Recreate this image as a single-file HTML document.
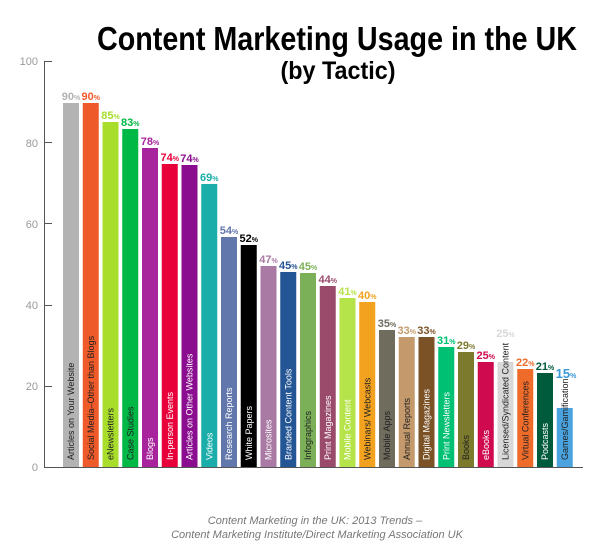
<!DOCTYPE html>
<html><head><meta charset="utf-8"><style>
body{margin:0;background:#fff;}
svg{display:block;font-family:"Liberation Sans",sans-serif;}
.p{font-weight:bold;font-size:11px;text-anchor:middle;}
.p tspan{font-size:7px;}
.l{font-size:9px;}
</style></head><body>
<svg width="600" height="549" viewBox="0 0 600 549">
<text x="337" y="50" font-size="33" font-weight="bold" text-anchor="middle" textLength="480" lengthAdjust="spacingAndGlyphs">Content Marketing Usage in the UK</text>
<text x="338" y="79" font-size="25" font-weight="bold" text-anchor="middle" textLength="115" lengthAdjust="spacingAndGlyphs">(by Tactic)</text>
<g fill="#999" font-size="11" text-anchor="end">
<text x="38" y="65">100</text><text x="38" y="147">80</text><text x="38" y="228">60</text><text x="38" y="309">40</text><text x="38" y="390">20</text><text x="38" y="471">0</text>
</g>
<g stroke="#555" stroke-width="1">
<line x1="44.5" y1="61" x2="44.5" y2="467"/>
<line x1="44" y1="467.5" x2="583" y2="467.5"/>
<line x1="44" y1="61.5" x2="52" y2="61.5"/><line x1="44" y1="142.5" x2="52" y2="142.5"/><line x1="44" y1="223.5" x2="52" y2="223.5"/><line x1="44" y1="305.5" x2="52" y2="305.5"/><line x1="44" y1="386.5" x2="52" y2="386.5"/>
</g>
<g>
<rect x="63" y="103" width="16" height="364" fill="#b3b3b3"/>
<rect x="82.75" y="103" width="16" height="364" fill="#ee5a2a"/>
<rect x="102.5" y="122" width="16" height="345" fill="#a8dd2c"/>
<rect x="122.25" y="129" width="16" height="338" fill="#00b845"/>
<rect x="142" y="148" width="16" height="319" fill="#a8249c"/>
<rect x="161.75" y="164" width="16" height="303" fill="#e8003a"/>
<rect x="181.5" y="165" width="16" height="302" fill="#8a0d8f"/>
<rect x="201.25" y="184" width="16" height="283" fill="#1aada9"/>
<rect x="221" y="237" width="16" height="230" fill="#6277ab"/>
<rect x="240.75" y="245" width="16" height="222" fill="#000"/>
<rect x="260.5" y="266" width="16" height="201" fill="#a97ba4"/>
<rect x="280.25" y="272" width="16" height="195" fill="#245594"/>
<rect x="300" y="273" width="16" height="194" fill="#7bb058"/>
<rect x="319.75" y="286" width="16" height="181" fill="#9a4b6c"/>
<rect x="339.5" y="298" width="16" height="169" fill="#b5e34a"/>
<rect x="359.25" y="302" width="16" height="165" fill="#f3a21f"/>
<rect x="379" y="330" width="16" height="137" fill="#6f6c5e"/>
<rect x="398.75" y="337" width="16" height="130" fill="#c49a6c"/>
<rect x="418.5" y="337" width="16" height="130" fill="#7a5226"/>
<rect x="438.25" y="347" width="16" height="120" fill="#00c074"/>
<rect x="458" y="352" width="16" height="115" fill="#7c7a2c"/>
<rect x="477.75" y="362" width="16" height="105" fill="#cf0a4e"/>
<rect x="497.5" y="362" width="16" height="105" fill="#d8d8d8"/>
<rect x="517.25" y="369" width="16" height="98" fill="#ee6b2a"/>
<rect x="537" y="373" width="16" height="94" fill="#005a3c"/>
<rect x="556.75" y="408" width="16" height="59" fill="#4aa3df"/>
</g>
<g class="p">
<text x="71" y="100" fill="#b3b3b3">90<tspan>%</tspan></text>
<text x="90.75" y="100" fill="#ee5a2a">90<tspan>%</tspan></text>
<text x="110.5" y="119" fill="#a8dd2c">85<tspan>%</tspan></text>
<text x="130.25" y="126" fill="#00b845">83<tspan>%</tspan></text>
<text x="150" y="145" fill="#a8249c">78<tspan>%</tspan></text>
<text x="169.75" y="161" fill="#e8003a">74<tspan>%</tspan></text>
<text x="189.5" y="162" fill="#8a0d8f">74<tspan>%</tspan></text>
<text x="209.25" y="181" fill="#1aada9">69<tspan>%</tspan></text>
<text x="229" y="234" fill="#6277ab">54<tspan>%</tspan></text>
<text x="248.75" y="242" fill="#000">52<tspan>%</tspan></text>
<text x="268.5" y="263" fill="#a97ba4">47<tspan>%</tspan></text>
<text x="288.25" y="269" fill="#245594">45<tspan>%</tspan></text>
<text x="308" y="270" fill="#7bb058">45<tspan>%</tspan></text>
<text x="327.75" y="283" fill="#9a4b6c">44<tspan>%</tspan></text>
<text x="347.5" y="295" fill="#b5e34a">41<tspan>%</tspan></text>
<text x="367.25" y="299" fill="#f3a21f">40<tspan>%</tspan></text>
<text x="387" y="327" fill="#6f6c5e">35<tspan>%</tspan></text>
<text x="406.75" y="334" fill="#c49a6c">33<tspan>%</tspan></text>
<text x="426.5" y="334" fill="#7a5226">33<tspan>%</tspan></text>
<text x="446.25" y="344" fill="#00c074">31<tspan>%</tspan></text>
<text x="466" y="349" fill="#7c7a2c">29<tspan>%</tspan></text>
<text x="485.75" y="359" fill="#cf0a4e">25<tspan>%</tspan></text>
<text x="505.5" y="337" fill="#d8d8d8">25<tspan>%</tspan></text>
<text x="525.25" y="366" fill="#ee6b2a">22<tspan>%</tspan></text>
<text x="545" y="370" fill="#005a3c">21<tspan>%</tspan></text>
<text x="566" y="378" fill="#3a9ad9" font-size="13">15<tspan>%</tspan></text>
</g>
<g class="l">
<text transform="translate(74,460) rotate(-90)" fill="#222">Articles on Your Website</text>
<text transform="translate(93.75,460) rotate(-90)" fill="#222">Social Media–Other than Blogs</text>
<text transform="translate(113.5,460) rotate(-90)" fill="#222">eNewsletters</text>
<text transform="translate(133.25,460) rotate(-90)" fill="#222">Case Studies</text>
<text transform="translate(153,460) rotate(-90)" fill="#fff">Blogs</text>
<text transform="translate(172.75,460) rotate(-90)" fill="#fff">In-person Events</text>
<text transform="translate(192.5,460) rotate(-90)" fill="#fff">Articles on Other Websites</text>
<text transform="translate(212.25,460) rotate(-90)" fill="#fff">Videos</text>
<text transform="translate(232,460) rotate(-90)" fill="#fff">Research Reports</text>
<text transform="translate(251.75,460) rotate(-90)" fill="#fff">White Papers</text>
<text transform="translate(271.5,460) rotate(-90)" fill="#fff">Microsites</text>
<text transform="translate(291.25,460) rotate(-90)" fill="#fff">Branded Content Tools</text>
<text transform="translate(311,460) rotate(-90)" fill="#222">Infographics</text>
<text transform="translate(330.75,460) rotate(-90)" fill="#fff">Print Magazines</text>
<text transform="translate(350.5,460) rotate(-90)" fill="#fff">Mobile Content</text>
<text transform="translate(370.25,460) rotate(-90)" fill="#222">Webinars/ Webcasts</text>
<text transform="translate(390,460) rotate(-90)" fill="#222">Mobile Apps</text>
<text transform="translate(409.75,460) rotate(-90)" fill="#222">Annual Reports</text>
<text transform="translate(429.5,460) rotate(-90)" fill="#fff">Digital Magazines</text>
<text transform="translate(449.25,460) rotate(-90)" fill="#fff">Print Newsletters</text>
<text transform="translate(469,460) rotate(-90)" fill="#222">Books</text>
<text transform="translate(488.75,460) rotate(-90)" fill="#fff">eBooks</text>
<text transform="translate(508.5,460) rotate(-90)" fill="#222">Licensed/Syndicated Content</text>
<text transform="translate(528.25,460) rotate(-90)" fill="#222">Virtual Conferences</text>
<text transform="translate(548,460) rotate(-90)" fill="#fff">Podcasts</text>
<text transform="translate(567.75,460) rotate(-90)" fill="#222">Games/Gamification</text>
</g>
<g fill="#777" font-size="11" font-style="italic" text-anchor="middle">
<text x="315" y="524">Content Marketing in the UK: 2013 Trends –</text>
<text x="317" y="538">Content Marketing Institute/Direct Marketing Association UK</text>
</g>
</svg>
</body></html>
